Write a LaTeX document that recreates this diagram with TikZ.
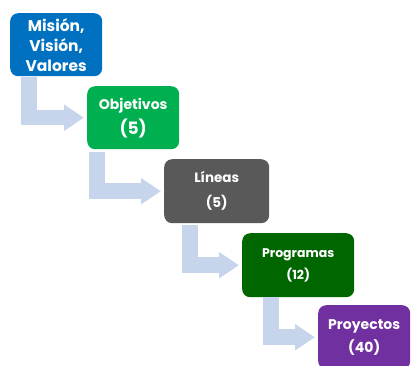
\documentclass[tikz,border=0pt]{standalone}
\usepackage{fontspec}
\setmainfont{Poppins}
\usetikzlibrary{arrows.meta}
\definecolor{cblue}{HTML}{0070C0}
\definecolor{cgreen}{HTML}{00B050}
\definecolor{cgray}{HTML}{595959}
\definecolor{cdgreen}{HTML}{006600}
\definecolor{cpurple}{HTML}{7030A0}
\definecolor{carrow}{HTML}{C6D5EB}
\begin{document}
\begin{tikzpicture}[x=1pt,y=-1pt,
  box/.style={rounded corners=8pt, anchor=north west, inner sep=0pt,
    text=white, align=center, font=\bfseries},
  bentarrow/.style={draw=carrow, line width=15.5pt, line join=miter,
    -{Triangle[length=20pt,width=25pt]}, shorten >=3pt}]
\useasboundingbox (0,0) rectangle (411,365);
\node[box, fill=cblue, minimum width=92pt, minimum height=63pt,
  font=\bfseries\fontsize{15.5}{20}\selectfont] (m) at (10,13) {Misión,\\Visión,\\Valores};
\node[box, fill=cgreen, minimum width=92pt, minimum height=63pt,
  font=\bfseries\fontsize{14}{25}\selectfont] (o) at (87,86)
  {Objetivos\\{\fontsize{17}{25}\selectfont (5)}};
\node[box, fill=cgray, minimum width=105pt, minimum height=64pt,
  font=\bfseries\fontsize{13.5}{25}\selectfont] (l) at (164,159)
  {Líneas\\(5)};
\node[box, fill=cdgreen, minimum width=112pt, minimum height=64pt,
  font=\bfseries\fontsize{12.5}{22}\selectfont] (p) at (242,233)
  {Programas\\(12)};
\node[box, fill=cpurple, minimum width=92pt, minimum height=64pt,
  font=\bfseries\fontsize{14}{23}\selectfont] (y) at (318,305)
  {Proyectos\\(40)};
\draw[bentarrow] ([xshift=19pt,yshift=-1pt]m.south west) |- (o.west);
\draw[bentarrow] ([xshift=10pt,yshift=-3pt]o.south west) |- (l.west);
\draw[bentarrow] ([xshift=26pt,yshift=-2pt]l.south west) |- (p.west);
\draw[bentarrow] ([xshift=29pt,yshift=0pt]p.south west) |- (y.west);
\end{tikzpicture}
\end{document}
